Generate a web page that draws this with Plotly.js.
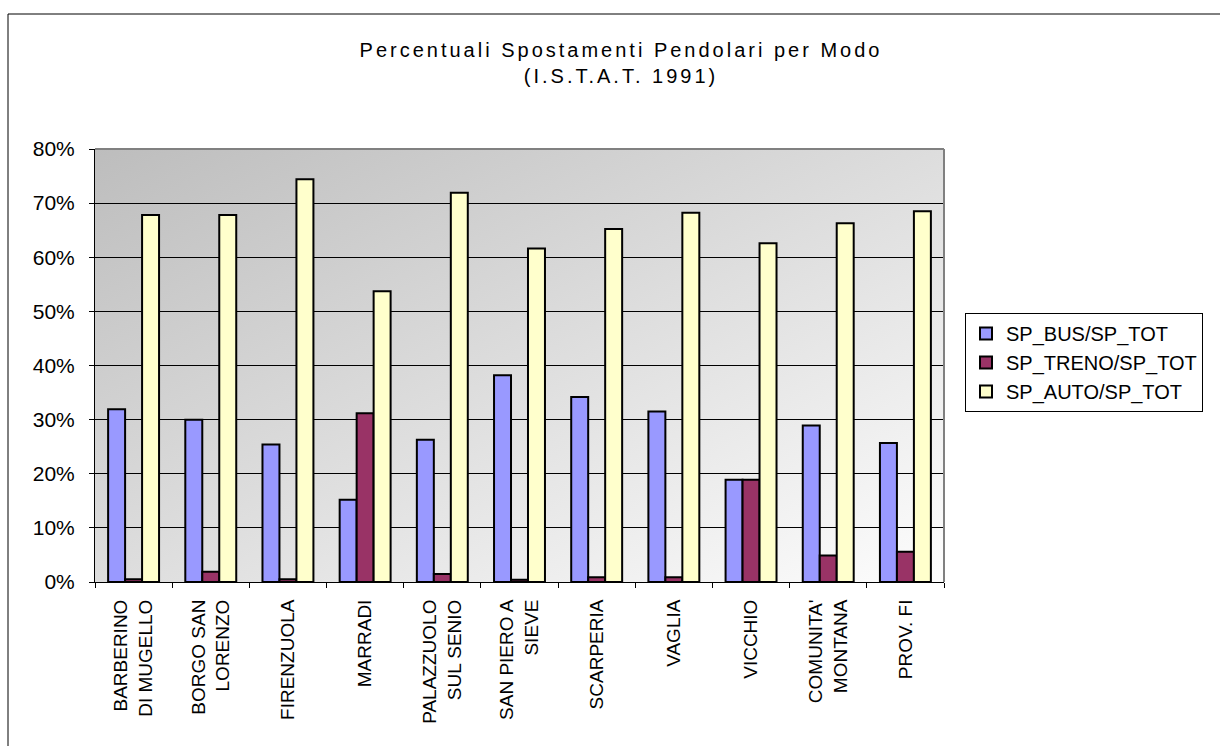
<!DOCTYPE html>
<html>
<head>
<meta charset="utf-8">
<script src="https://cdn.plot.ly/plotly-3.0.1.min.js"></script>
<style>
  html, body { margin: 0; padding: 0; background: #ffffff; }
  #chart { width: 1220px; height: 746px; }
  /* spaziatura larga dei caratteri nel titolo */
  #chart text.gtitle { letter-spacing: 3px; }
</style>
</head>
<body>
<div id="chart"></div>
<script>
// Comuni del Mugello: quota degli spostamenti pendolari per modo di trasporto
const categories = [
  "BARBERINO<br>DI MUGELLO",
  "BORGO SAN<br>LORENZO",
  "FIRENZUOLA",
  "MARRADI",
  "PALAZZUOLO<br>SUL SENIO",
  "SAN PIERO A<br>SIEVE",
  "SCARPERIA",
  "VAGLIA",
  "VICCHIO",
  "COMUNITA'<br>MONTANA",
  "PROV. FI"
];

const busShare   = [0.319, 0.300, 0.254, 0.152, 0.263, 0.382, 0.342, 0.315, 0.189, 0.289, 0.257];
const trenoShare = [0.005, 0.019, 0.005, 0.312, 0.015, 0.004, 0.009, 0.009, 0.189, 0.049, 0.056];
const autoShare  = [0.678, 0.678, 0.744, 0.537, 0.719, 0.616, 0.652, 0.682, 0.626, 0.663, 0.685];

const seriesNames = ["SP_BUS/SP_TOT", "SP_TRENO/SP_TOT", "SP_AUTO/SP_TOT"];
const seriesColors = ["#9999ff", "#993366", "#ffffcc"];

const yTicks = [0, 0.1, 0.2, 0.3, 0.4, 0.5, 0.6, 0.7, 0.8];

const FONT = "Liberation Sans, Arial, sans-serif";

function barTrace(values, i) {
  return {
    type: "bar",
    name: seriesNames[i],
    x: categories,
    y: values,
    marker: { color: seriesColors[i], line: { color: "#000000", width: 2 } },
    hoverinfo: "x+y+name"
  };
}

const data = [busShare, trenoShare, autoShare].map(barTrace);

// Gradiente diagonale dello sfondo dell'area del grafico
const gradientSvg =
  "<svg xmlns='http://www.w3.org/2000/svg' width='200' height='100' preserveAspectRatio='none' viewBox='0 0 200 100'>" +
  "<defs><linearGradient id='g' x1='0' y1='0' x2='1' y2='1'>" +
  "<stop offset='0' stop-color='#bdbdbd'/><stop offset='1' stop-color='#fdfdfd'/>" +
  "</linearGradient></defs><rect width='200' height='100' fill='url(#g)'/></svg>";

const L = 95, R = 944, T = 149, B = 582, W = 1220, H = 746;
const px = v => (v - L) / (R - L);
const py = v => (B - v) / (B - T);

const layout = {
  width: W,
  height: H,
  margin: { l: L, r: W - R, t: T, b: H - B, pad: 0 },
  paper_bgcolor: "#ffffff",
  plot_bgcolor: "rgba(0,0,0,0)",
  font: { family: FONT, size: 19, color: "#000000" },
  title: {
    text: "Percentuali Spostamenti Pendolari per Modo<br>(I.S.T.A.T. 1991)",
    font: { family: FONT, size: 20, color: "#000000" },
    x: 621 / W,
    xref: "container",
    xanchor: "center",
    y: 1 - 57 / H,
    yref: "container",
    yanchor: "top"
  },
  barmode: "group",
  bargap: 0.34,
  bargroupgap: 0,
  showlegend: true,
  legend: {
    x: px(965),
    y: py(313),
    xanchor: "left",
    yanchor: "top",
    bgcolor: "#ffffff",
    bordercolor: "#000000",
    borderwidth: 1,
    font: { family: FONT, size: 20, color: "#000000" },
    traceorder: "normal",
    itemwidth: 30
  },
  xaxis: {
    type: "category",
    tickangle: -90,
    ticks: "outside",
    tickson: "boundaries",
    ticklen: 5,
    tickcolor: "#000000",
    showline: true,
    linecolor: "#000000",
    linewidth: 1,
    showgrid: false,
    ticklabelstandoff: 9,
    tickfont: { family: FONT, size: 19, color: "#000000" },
    fixedrange: true
  },
  yaxis: {
    range: [0, 0.8],
    tickvals: yTicks,
    tickformat: ".0%",
    ticks: "outside",
    ticklen: 5,
    tickcolor: "#000000",
    showline: true,
    linecolor: "#000000",
    linewidth: 1,
    showgrid: true,
    gridcolor: "#000000",
    gridwidth: 1,
    zeroline: false,
    ticklabelstandoff: 10,
    tickfont: { family: FONT, size: 21, color: "#000000" },
    fixedrange: true
  },
  images: [{
    source: "data:image/svg+xml;charset=utf-8," + encodeURIComponent(gradientSvg),
    xref: "paper", yref: "paper",
    x: 0, y: 1, sizex: 1, sizey: 1,
    xanchor: "left", yanchor: "top",
    sizing: "stretch",
    layer: "below"
  }],
  shapes: [
    // bordo grigio superiore e destro dell'area del grafico
    { type: "line", xref: "paper", yref: "paper", x0: 0, y0: 1, x1: 1, y1: 1,
      line: { color: "#808080", width: 2 }, layer: "above" },
    { type: "line", xref: "paper", yref: "paper", x0: 1, y0: 0, x1: 1, y1: 1,
      line: { color: "#808080", width: 2 }, layer: "above" },
    // cornice esterna del grafico
    { type: "line", xref: "paper", yref: "paper", x0: px(8), y0: py(14), x1: px(1240), y1: py(14),
      line: { color: "#000000", width: 1 } },
    { type: "line", xref: "paper", yref: "paper", x0: px(8), y0: py(14), x1: px(8), y1: py(760),
      line: { color: "#000000", width: 1 } }
  ]
};

Plotly.newPlot("chart", data, layout, { displayModeBar: false, staticPlot: true });
</script>
</body>
</html>
